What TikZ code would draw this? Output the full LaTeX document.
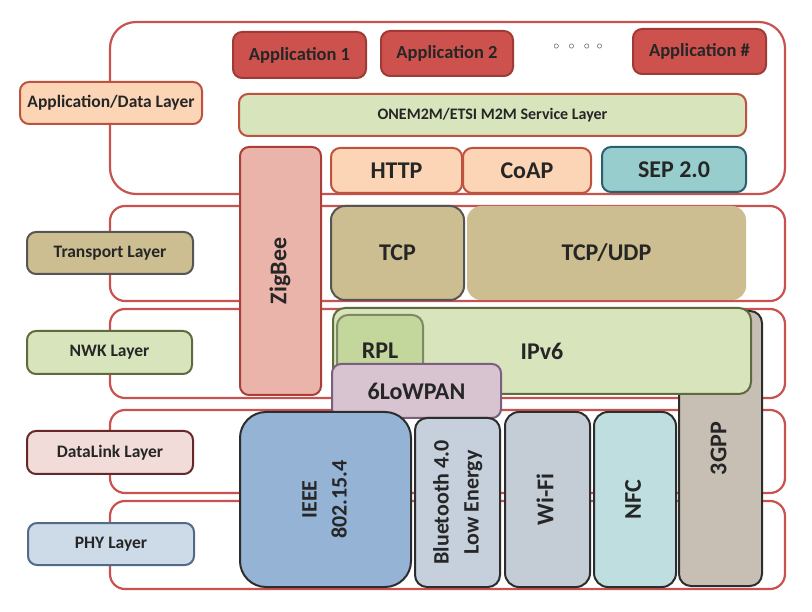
\documentclass[tikz,border=0pt]{standalone}
\usepackage{fontspec}
\setmainfont{Carlito}
\definecolor{frameRed}{RGB}{200,82,80}
\definecolor{appFill}{RGB}{205,82,78}
\definecolor{appDraw}{RGB}{160,58,52}
\definecolor{peach}{RGB}{251,213,181}
\definecolor{peachDraw}{RGB}{190,82,62}
\definecolor{greenL}{RGB}{215,228,188}
\definecolor{oliveDraw}{RGB}{95,107,62}
\definecolor{rplFill}{RGB}{195,214,155}
\definecolor{tanFill}{RGB}{204,190,145}
\definecolor{grayDraw}{RGB}{85,85,85}
\definecolor{sepFill}{RGB}{152,205,205}
\definecolor{sepDraw}{RGB}{42,95,110}
\definecolor{zigFill}{RGB}{235,180,170}
\definecolor{zigDraw}{RGB}{170,62,56}
\definecolor{lowFill}{RGB}{216,196,208}
\definecolor{lowDraw}{RGB}{122,96,126}
\definecolor{gppFill}{RGB}{200,191,180}
\definecolor{darkDraw}{RGB}{45,45,45}
\definecolor{ieeeFill}{RGB}{149,179,213}
\definecolor{btFill}{RGB}{197,208,220}
\definecolor{wifiFill}{RGB}{196,204,214}
\definecolor{nfcFill}{RGB}{190,222,223}
\definecolor{dlFill}{RGB}{242,220,217}
\definecolor{dlDraw}{RGB}{100,40,40}
\definecolor{phyFill}{RGB}{205,218,232}
\definecolor{phyDraw}{RGB}{80,106,135}
\definecolor{txt}{RGB}{38,38,38}
\newcommand{\vtext}[1]{\rotatebox{90}{\begin{tabular}{@{}c@{}}#1\end{tabular}}}
\tikzset{
  box/.style={rectangle, rounded corners=9pt, line width=2pt, inner sep=0pt, outer sep=0pt,
    font=\bfseries, text=txt, align=center},
  frame/.style={rectangle, rounded corners=15pt, draw=frameRed, line width=2.2pt, inner sep=0pt},
  layerlbl/.style={box, font=\bfseries\fontsize{17.5}{20}\selectfont},
  applbl/.style={box, fill=appFill, draw=appDraw, font=\bfseries\fontsize{18.5}{21}\selectfont},
  bigtxt/.style={font=\bfseries\fontsize{24}{29}\selectfont},
  midtxt/.style={font=\bfseries\fontsize{22}{30}\selectfont},
}
\begin{document}
\begin{tikzpicture}[x=1pt,y=-1pt]
\useasboundingbox (0,0) rectangle (812,612);
% layer frames
\node[frame, rounded corners=26pt, minimum width=675pt, minimum height=172pt] (appframe) at (447.5,108) {};
\node[frame, minimum width=675pt, minimum height=95pt] (tframe) at (447.5,253.5) {};
\node[frame, minimum width=675pt, minimum height=89pt] (nframe) at (447.5,353.5) {};
\node[frame, minimum width=675pt, minimum height=83pt] (dframe) at (447.5,451.5) {};
\node[frame, minimum width=675pt, minimum height=88pt] (pframe) at (447.5,545) {};
% left labels
\node[layerlbl, fill=peach, draw=peachDraw, minimum width=182pt, minimum height=42pt] (appL) at (111,103) {Application/Data Layer};
\node[layerlbl, fill=tanFill, draw=grayDraw, minimum width=166pt, minimum height=42pt] (tL) at (110,253) {Transport Layer};
\node[layerlbl, fill=greenL, draw=oliveDraw, minimum width=165pt, minimum height=43pt] (nL) at (109.5,352.5) {NWK Layer};
\node[layerlbl, fill=dlFill, draw=dlDraw, minimum width=166pt, minimum height=43pt] (dL) at (110,452.5) {DataLink Layer};
\node[layerlbl, fill=phyFill, draw=phyDraw, minimum width=166pt, minimum height=42pt] (pL) at (111,544) {PHY Layer};
% applications
\node[applbl, minimum width=133pt, minimum height=46pt] (a1) at (299.5,55) {Application 1};
\node[applbl, minimum width=132pt, minimum height=45pt] (a2) at (447,53.5) {Application 2};
\node[font=\fontsize{13}{14}\selectfont, text=txt, inner sep=0pt] (dots) at (578,47) {$\circ\;\;\circ\;\;\circ\;\;\circ$};
\node[applbl, minimum width=133pt, minimum height=45pt] (an) at (699.5,51.5) {Application \#};
\node[box, fill=greenL, draw=peachDraw, minimum width=507pt, minimum height=42pt, font=\bfseries\fontsize{16}{18}\selectfont] (onem) at (492.5,115) {ONEM2M/ETSI M2M Service Layer};
% ZigBee
\node[box, fill=zigFill, draw=zigDraw, minimum width=81pt, minimum height=248pt, bigtxt] (zig) at (280.5,271) {\vtext{ZigBee}};
% app protocols
\node[box, fill=peach, draw=peachDraw, minimum width=131pt, minimum height=45pt, bigtxt] (http) at (396.5,170.5) {HTTP};
\node[box, fill=peach, draw=peachDraw, minimum width=128pt, minimum height=45pt, bigtxt] (coap) at (527,170.5) {CoAP};
\node[box, fill=sepFill, draw=sepDraw, minimum width=144pt, minimum height=45pt, bigtxt] (sep) at (674,169.5) {SEP 2.0};
% transport
\node[box, rounded corners=14pt, fill=tanFill, draw=grayDraw, minimum width=133pt, minimum height=94pt, bigtxt] (tcp) at (397.5,253) {TCP};
\node[box, rounded corners=14pt, fill=tanFill, minimum width=279pt, minimum height=94pt, bigtxt] (tcpudp) at (606.5,253) {TCP/UDP};
% network
\node[box, rounded corners=12pt, fill=gppFill, draw=darkDraw, minimum width=83pt, minimum height=275pt, bigtxt] (gpp) at (720.5,448.5) {\vtext{3GPP}};
\node[box, rounded corners=12pt, fill=greenL, draw=oliveDraw, minimum width=418pt, minimum height=86pt, bigtxt] (ipv6) at (542,351) {IPv6};
\node[box, rounded corners=11pt, fill=rplFill, draw=oliveDraw!80, minimum width=86pt, minimum height=70pt] (rpl) at (380,350) {};
\node[bigtxt, text=txt, inner sep=0pt] (rpltxt) at (380,351) {RPL};
\node[box, fill=lowFill, draw=lowDraw, minimum width=169pt, minimum height=54pt, bigtxt] (lowpan) at (416.5,391) {6LoWPAN};
% link / phy
\node[box, rounded corners=26pt, fill=ieeeFill, draw=darkDraw, minimum width=171pt, minimum height=175pt, midtxt] (ieee) at (325.5,499.5) {\vtext{IEEE\\802.15.4}};
\node[box, rounded corners=12pt, fill=btFill, draw=darkDraw, minimum width=85pt, minimum height=169pt, midtxt] (bt) at (457.5,502.5) {\vtext{Bluetooth 4.0\\Low Energy}};
\node[box, rounded corners=14pt, fill=wifiFill, draw=darkDraw, minimum width=85pt, minimum height=175pt, bigtxt] (wifi) at (547.5,499.5) {\vtext{Wi-Fi}};
\node[box, rounded corners=14pt, fill=nfcFill, draw=darkDraw, minimum width=82pt, minimum height=175pt, bigtxt] (nfc) at (635,499.5) {\vtext{NFC}};
\end{tikzpicture}
\end{document}
